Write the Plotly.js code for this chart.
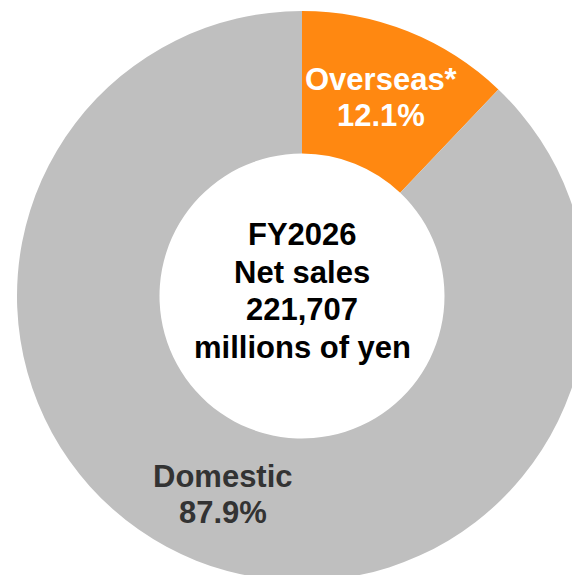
<!DOCTYPE html>
<html>
<head>
<meta charset="utf-8">
<script src="https://cdn.plot.ly/plotly-3.0.1.min.js"></script>
<style>
html, body { margin: 0; padding: 0; overflow: hidden; background: #ffffff; }
#chart { width: 620px; height: 600px; }
</style>
</head>
<body>
<div id="chart"></div>
<script>
// Data
const categories = ["Overseas*", "Domestic"];
const shares = [12.1, 87.9];
const sliceColors = ["#FF8811", "#BFBFBF"];
const labelColors = ["#FFFFFF", "#333333"];
const centerLines = ["FY2026", "Net sales", "221,707", "millions of yen"];

const W = 620, H = 600;
const cx = 302, cy = 296, R = 285, HOLE = 0.5;
const FONT = "Liberation Sans, Arial, sans-serif";

const trace = {
  type: "pie",
  labels: categories,
  values: shares,
  sort: false,
  direction: "clockwise",
  rotation: 0,
  hole: HOLE,
  marker: { colors: sliceColors, line: { width: 0 } },
  textinfo: "none",
  hoverinfo: "none",
  showlegend: false,
  domain: {
    x: [(cx - R) / W, (cx + R) / W],
    y: [(H - (cy + R)) / H, (H - (cy - R)) / H]
  }
};

const px = x => x / W;
const py = y => (H - y) / H;
const annotations = [];

// Slice labels, placed at the middle of each slice's arc (computed from the shares)
const total = shares.reduce((a, b) => a + b, 0);
const rMid = R * (1 + HOLE) / 2;
let cum = 0;
shares.forEach((v, i) => {
  const mid = (cum + v / 2) / total * 2 * Math.PI;
  cum += v;
  const x = cx + rMid * Math.sin(mid);
  const y = cy - rMid * Math.cos(mid);
  const lines = [categories[i], v.toFixed(1) + "%"];
  const gap = 36;
  lines.forEach((t, j) => {
    annotations.push({
      text: t, x: px(x), y: py(y + (j - 0.5) * gap),
      xref: "paper", yref: "paper", xanchor: "center", yanchor: "middle",
      showarrow: false,
      font: { family: FONT, size: 31, color: labelColors[i], weight: "bold" }
    });
  });
});

// Center text
const cGap = 37.5;
const cShift = -5;
centerLines.forEach((t, j) => {
  annotations.push({
    text: t, x: px(cx), y: py(cy + cShift + (j - 1.5) * cGap),
    xref: "paper", yref: "paper", xanchor: "center", yanchor: "middle",
    showarrow: false,
    font: { family: FONT, size: 31, color: "#000000", weight: "bold" }
  });
});

const layout = {
  width: W,
  height: H,
  margin: { l: 0, r: 0, t: 0, b: 0 },
  paper_bgcolor: "#ffffff",
  showlegend: false,
  annotations: annotations
};

Plotly.newPlot("chart", [trace], layout, { staticPlot: true, displayModeBar: false });
</script>
</body>
</html>
